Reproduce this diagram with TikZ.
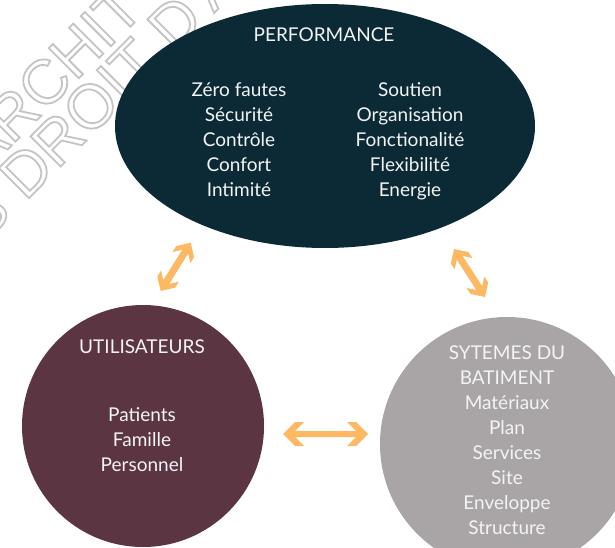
\documentclass[tikz,border=0pt]{standalone}
\usepackage{fontspec}
\setmainfont{Lato}
\newfontfamily\wmfont{Liberation Sans}
\usetikzlibrary{shapes.geometric,calc}
\definecolor{perfteal}{HTML}{0B2A35}
\definecolor{usermaroon}{HTML}{5B3541}
\definecolor{sysgrey}{HTML}{A9A4A6}
\definecolor{arroworange}{HTML}{FDB864}
\definecolor{wmgrey}{HTML}{C4C4C4}
\definecolor{lbltext}{HTML}{F4F4F4}

% outlined (hollow) text for the watermark
\newcommand\hollowtext[1]{\special{pdf:literal direct 1 Tr 1.8 w}#1\special{pdf:literal direct 0 Tr}}

% double-headed block arrow between two named coordinates
% #1 tip A, #2 tip B, #3 head half width, #4 flat cut length, #5 shaft half width
\newcommand\myDblArrow[5]{%
  \pgfmathsetmacro\dAh{#3}%
  \pgfmathsetmacro\dAc{#3+#4}%
  \pgfmathsetmacro\dAj{#4+#5}%
  \fill[arrowfill] (#1)
    -- ($(#1)!\dAh pt!(#2)!#3pt!90:(#2)$)
    -- ($(#1)!\dAc pt!(#2)!#3pt!90:(#2)$)
    -- ($(#1)!\dAj pt!(#2)!#5pt!90:(#2)$)
    -- ($(#2)!\dAj pt!(#1)!#5pt!-90:(#1)$)
    -- ($(#2)!\dAc pt!(#1)!#3pt!-90:(#1)$)
    -- ($(#2)!\dAh pt!(#1)!#3pt!-90:(#1)$)
    -- (#2)
    -- ($(#2)!\dAh pt!(#1)!#3pt!90:(#1)$)
    -- ($(#2)!\dAc pt!(#1)!#3pt!90:(#1)$)
    -- ($(#2)!\dAj pt!(#1)!#5pt!90:(#1)$)
    -- ($(#1)!\dAj pt!(#2)!#5pt!-90:(#2)$)
    -- ($(#1)!\dAc pt!(#2)!#3pt!-90:(#2)$)
    -- ($(#1)!\dAh pt!(#2)!#3pt!-90:(#2)$)
    -- cycle;%
}

\begin{document}
\begin{tikzpicture}[x=1pt,y=-1pt,
  lbl/.style={font=\fontsize{19}{25}\selectfont, text=lbltext, align=center, inner sep=0pt},
  wm/.style={font=\wmfont\fontsize{62}{62}\selectfont, text=wmgrey, inner sep=0pt, anchor=west, rotate=45},
  blob/.style={inner sep=0pt, draw=none},
  arrowfill/.style={fill=arroworange}]
\useasboundingbox (0,0) rectangle (615,548);
\clip (0,0) rectangle (615,548);

% watermark
\node[wm] (wmA) at (-32.5,159.5) {\hollowtext{ARCHIT}};
\node[wm] (wmB) at (-31.2,228.2) {\hollowtext{S DROIT D'A}};

% shapes
\node[blob, ellipse, fill=perfteal, minimum width=420pt, minimum height=244pt] (perf) at (325,126) {};
\node[blob, circle, fill=usermaroon, minimum size=242pt] (users) at (143,426) {};
\node[blob, circle, fill=sysgrey, minimum size=254pt] (sys) at (507,444) {};

% texts
\node[lbl] (perfT) at (324,35) {PERFORMANCE};
\node[lbl] (perfL) at (239,140) {Zéro fautes\\Sécurité\\Contrôle\\Confort\\Intimité};
\node[lbl] (perfR) at (410,141) {Soutien\\Organisation\\Fonctionalité\\Flexibilité\\Energie};
\node[lbl] (usersT) at (142,347) {UTILISATEURS};
\node[lbl] (usersL) at (142,440) {Patients\\Famille\\Personnel};
\node[lbl] (sysL) at (507,440.5) {SYTEMES DU\\BATIMENT\\Matériaux\\Plan\\Services\\Site\\Enveloppe\\Structure};

% arrows
\coordinate (ua) at (160.7,291);
\coordinate (ub) at (190.7,242.7);
\coordinate (sa) at (454,249);
\coordinate (sb) at (485,297);
\coordinate (ha) at (283,434);
\coordinate (hb) at (368,434);
\myDblArrow{ua}{ub}{10.5}{7}{3.5}
\myDblArrow{sa}{sb}{10.5}{7}{3.5}
\myDblArrow{ha}{hb}{12}{9}{3}
\end{tikzpicture}
\end{document}
